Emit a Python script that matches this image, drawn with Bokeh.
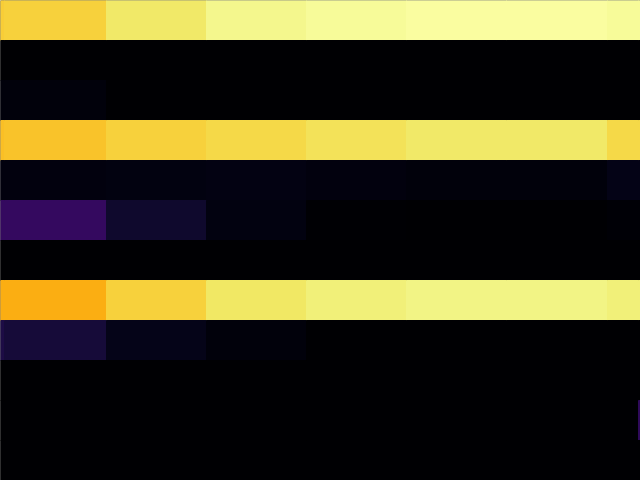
import numpy as np
from bokeh.plotting import figure
from bokeh.models import ColumnDataSource, Range1d, LinearColorMapper
from bokeh.palettes import Inferno256
from bokeh.embed import file_html
from bokeh.resources import INLINE

# column bin edges (x) and row indices (y, top to bottom)
x_edges = [0.0, 0.04, 1.06, 2.06, 3.06, 4.06, 5.06, 6.07, 6.38, 6.40]
rows = list(range(12))

# cell values (0..1), one list per row, one value per column bin
row0 = [0.88, 0.89, 0.94, 0.975, 0.985, 0.995, 0.995, 0.985, 0.985]
row1 = [0.0, 0.0, 0.0, 0.0, 0.0, 0.0, 0.0, 0.0, 0.0]
row2 = [0.02, 0.02, 0.0, 0.0, 0.0, 0.0, 0.0, 0.0, 0.0]
row3 = [0.855, 0.86, 0.89, 0.905, 0.925, 0.94, 0.94, 0.905, 0.905]
row4 = [0.025, 0.025, 0.03, 0.035, 0.025, 0.02, 0.02, 0.04, 0.04]
row5 = [0.17, 0.17, 0.08, 0.03, 0.005, 0.0, 0.0, 0.01, 0.01]
row6 = [0.0, 0.0, 0.0, 0.0, 0.0, 0.0, 0.0, 0.0, 0.0]
row7 = [0.82, 0.82, 0.89, 0.935, 0.955, 0.965, 0.965, 0.955, 0.955]
row8 = [0.12, 0.10, 0.045, 0.02, 0.0, 0.0, 0.0, 0.0, 0.0]
row9 = [0.0, 0.0, 0.0, 0.0, 0.0, 0.0, 0.0, 0.0, 0.0]
row10 = [0.0, 0.0, 0.0, 0.0, 0.0, 0.0, 0.0, 0.0, 0.16]
row11 = [0.0, 0.0, 0.0, 0.0, 0.0, 0.0, 0.0, 0.0, 0.0]

grid = [row0, row1, row2, row3, row4, row5, row6, row7, row8, row9, row10, row11]

left, right, top, bottom, vals = [], [], [], [], []
for r, rv in zip(rows, grid):
    for c, v in enumerate(rv):
        left.append(x_edges[c])
        right.append(x_edges[c + 1])
        top.append(r)
        bottom.append(r + 1)
        vals.append(v)

src = ColumnDataSource(dict(left=left, right=right, top=top, bottom=bottom, val=vals))
mapper = LinearColorMapper(palette=Inferno256, low=0.0, high=1.0)

p = figure(width=640, height=480, output_backend="svg", toolbar_location=None,
           x_range=Range1d(x_edges[0], x_edges[-1]), y_range=Range1d(len(rows), 0),
           min_border=0)
p.quad(left="left", right="right", top="top", bottom="bottom", source=src,
       fill_color={"field": "val", "transform": mapper},
       line_color={"field": "val", "transform": mapper}, line_width=1)
p.axis.visible = False
p.grid.visible = False
p.outline_line_color = None
p.background_fill_color = "black"
p.border_fill_color = "black"

html = file_html(p, INLINE)
html = html.replace("<body>", '<body style="margin:0;overflow:hidden;background:black">', 1)
open("out.html", "w").write(html)
